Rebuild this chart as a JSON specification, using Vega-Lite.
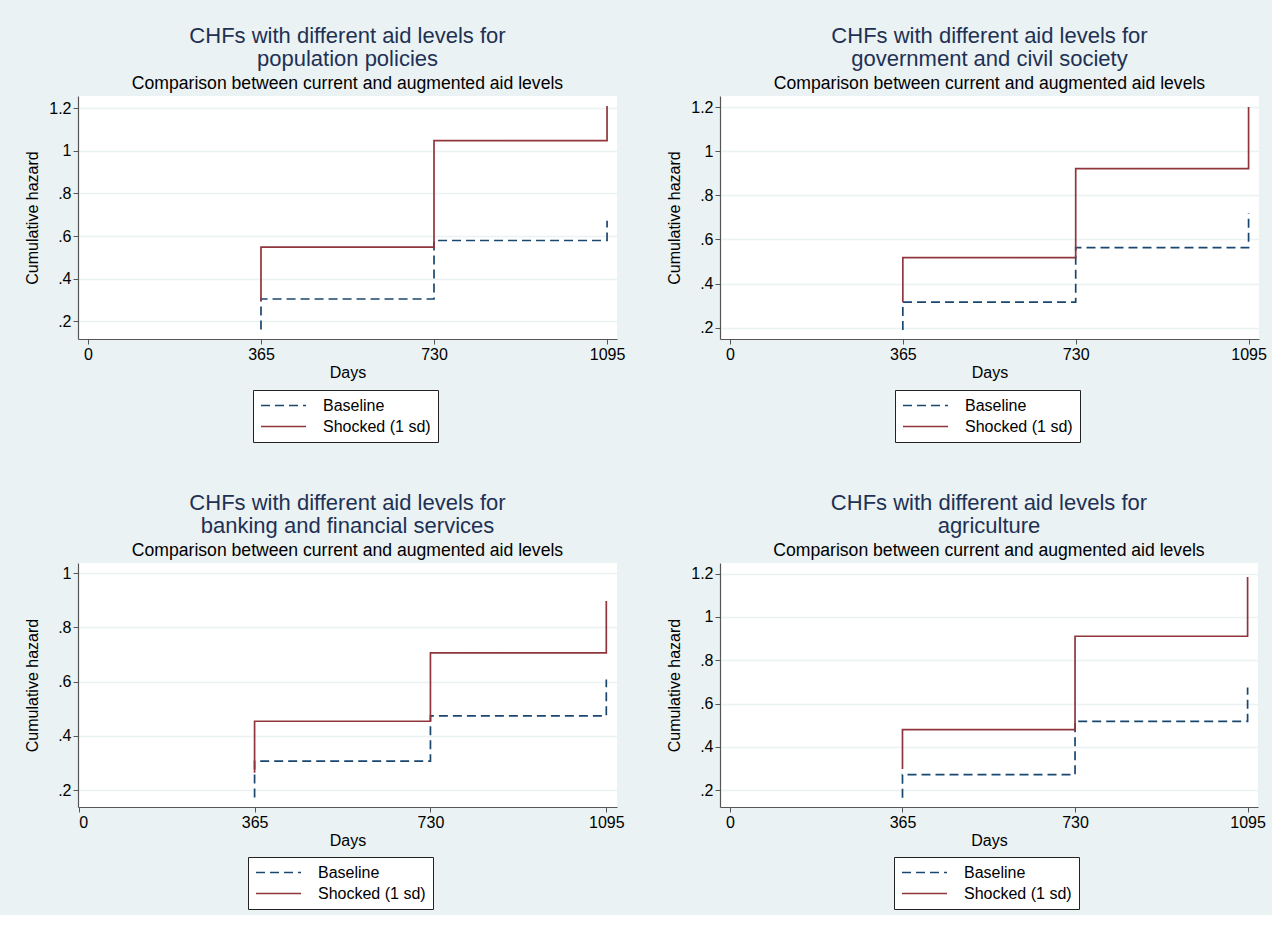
{
  "$schema": "https://vega.github.io/schema/vega-lite/v6.json",
  "background": "#EAF2F3",
  "padding": {"left": 24, "top": 25, "right": 5, "bottom": 5},
  "datasets": {
    "chf": [
      {"panel": 1, "series": "Baseline", "o": 1, "day": 365, "hazard": 0.161},
      {"panel": 1, "series": "Baseline", "o": 2, "day": 365, "hazard": 0.304},
      {"panel": 1, "series": "Baseline", "o": 3, "day": 730, "hazard": 0.304},
      {"panel": 1, "series": "Baseline", "o": 4, "day": 730, "hazard": 0.579},
      {"panel": 1, "series": "Baseline", "o": 5, "day": 1095, "hazard": 0.579},
      {"panel": 1, "series": "Baseline", "o": 6, "day": 1095, "hazard": 0.672},
      {"panel": 1, "series": "Shocked (1 sd)", "o": 1, "day": 365, "hazard": 0.294},
      {"panel": 1, "series": "Shocked (1 sd)", "o": 2, "day": 365, "hazard": 0.548},
      {"panel": 1, "series": "Shocked (1 sd)", "o": 3, "day": 730, "hazard": 0.548},
      {"panel": 1, "series": "Shocked (1 sd)", "o": 4, "day": 730, "hazard": 0.781},
      {"panel": 1, "series": "Shocked (1 sd)", "o": 5, "day": 730, "hazard": 1.048},
      {"panel": 1, "series": "Shocked (1 sd)", "o": 6, "day": 1095, "hazard": 1.048},
      {"panel": 1, "series": "Shocked (1 sd)", "o": 7, "day": 1095, "hazard": 1.211},
      {"panel": 2, "series": "Baseline", "o": 1, "day": 365, "hazard": 0.19},
      {"panel": 2, "series": "Baseline", "o": 2, "day": 365, "hazard": 0.316},
      {"panel": 2, "series": "Baseline", "o": 3, "day": 730, "hazard": 0.316},
      {"panel": 2, "series": "Baseline", "o": 4, "day": 730, "hazard": 0.563},
      {"panel": 2, "series": "Baseline", "o": 5, "day": 1095, "hazard": 0.563},
      {"panel": 2, "series": "Baseline", "o": 6, "day": 1095, "hazard": 0.719},
      {"panel": 2, "series": "Shocked (1 sd)", "o": 1, "day": 365, "hazard": 0.316},
      {"panel": 2, "series": "Shocked (1 sd)", "o": 2, "day": 365, "hazard": 0.518},
      {"panel": 2, "series": "Shocked (1 sd)", "o": 3, "day": 730, "hazard": 0.518},
      {"panel": 2, "series": "Shocked (1 sd)", "o": 4, "day": 730, "hazard": 0.654},
      {"panel": 2, "series": "Shocked (1 sd)", "o": 5, "day": 730, "hazard": 0.921},
      {"panel": 2, "series": "Shocked (1 sd)", "o": 6, "day": 1095, "hazard": 0.921},
      {"panel": 2, "series": "Shocked (1 sd)", "o": 7, "day": 1095, "hazard": 0.996},
      {"panel": 2, "series": "Shocked (1 sd)", "o": 8, "day": 1095, "hazard": 1.2},
      {"panel": 3, "series": "Baseline", "o": 1, "day": 365, "hazard": 0.173},
      {"panel": 3, "series": "Baseline", "o": 2, "day": 365, "hazard": 0.307},
      {"panel": 3, "series": "Baseline", "o": 3, "day": 730, "hazard": 0.307},
      {"panel": 3, "series": "Baseline", "o": 4, "day": 730, "hazard": 0.474},
      {"panel": 3, "series": "Baseline", "o": 5, "day": 1095, "hazard": 0.474},
      {"panel": 3, "series": "Baseline", "o": 6, "day": 1095, "hazard": 0.608},
      {"panel": 3, "series": "Shocked (1 sd)", "o": 1, "day": 365, "hazard": 0.264},
      {"panel": 3, "series": "Shocked (1 sd)", "o": 2, "day": 365, "hazard": 0.454},
      {"panel": 3, "series": "Shocked (1 sd)", "o": 3, "day": 730, "hazard": 0.454},
      {"panel": 3, "series": "Shocked (1 sd)", "o": 4, "day": 730, "hazard": 0.54},
      {"panel": 3, "series": "Shocked (1 sd)", "o": 5, "day": 730, "hazard": 0.706},
      {"panel": 3, "series": "Shocked (1 sd)", "o": 6, "day": 1095, "hazard": 0.706},
      {"panel": 3, "series": "Shocked (1 sd)", "o": 7, "day": 1095, "hazard": 0.897},
      {"panel": 4, "series": "Baseline", "o": 1, "day": 365, "hazard": 0.166},
      {"panel": 4, "series": "Baseline", "o": 2, "day": 365, "hazard": 0.272},
      {"panel": 4, "series": "Baseline", "o": 3, "day": 730, "hazard": 0.272},
      {"panel": 4, "series": "Baseline", "o": 4, "day": 730, "hazard": 0.518},
      {"panel": 4, "series": "Baseline", "o": 5, "day": 1095, "hazard": 0.518},
      {"panel": 4, "series": "Baseline", "o": 6, "day": 1095, "hazard": 0.674},
      {"panel": 4, "series": "Shocked (1 sd)", "o": 1, "day": 365, "hazard": 0.298},
      {"panel": 4, "series": "Shocked (1 sd)", "o": 2, "day": 365, "hazard": 0.48},
      {"panel": 4, "series": "Shocked (1 sd)", "o": 3, "day": 730, "hazard": 0.48},
      {"panel": 4, "series": "Shocked (1 sd)", "o": 4, "day": 730, "hazard": 0.611},
      {"panel": 4, "series": "Shocked (1 sd)", "o": 5, "day": 730, "hazard": 0.911},
      {"panel": 4, "series": "Shocked (1 sd)", "o": 6, "day": 1095, "hazard": 0.911},
      {"panel": 4, "series": "Shocked (1 sd)", "o": 7, "day": 1095, "hazard": 0.991},
      {"panel": 4, "series": "Shocked (1 sd)", "o": 8, "day": 1095, "hazard": 1.184}
    ]
  },
  "spacing": 49,
  "vconcat": [
    {
      "spacing": 41,
      "resolve": {"scale": {"color": "independent", "strokeDash": "independent", "x": "independent", "y": "independent"}, "legend": {"color": "independent", "strokeDash": "independent"}},
      "hconcat": [
        {
          "width": 539, "height": 243,
          "title": {"text": ["CHFs with different aid levels for", "population policies"], "subtitle": "Comparison between current and augmented aid levels"},
          "data": {"name": "chf"},
          "transform": [{"filter": "datum.panel == 1"}],
          "mark": {"type": "line", "strokeWidth": 1.7},
          "encoding": {
            "x": {"field": "day", "type": "quantitative", "title": "Days", "scale": {"domain": [-21, 1116], "nice": false, "zero": false}, "axis": {"values": [0, 365, 730, 1095], "format": "d"}},
            "y": {"field": "hazard", "type": "quantitative", "title": "Cumulative hazard", "scale": {"domain": [0.116, 1.258], "nice": false, "zero": false}, "axis": {"values": [0.2, 0.4, 0.6, 0.8, 1, 1.2], "labelExpr": "datum.value < 1 ? slice(format(datum.value, '.1f'), 1) : format(datum.value, '~g')"}},
            "color": {"field": "series", "type": "nominal", "scale": {"domain": ["Baseline", "Shocked (1 sd)"], "range": ["#1A476F", "#90353B"]}, "legend": {"title": null, "orient": "none", "legendX": 175, "legendY": 294}},
            "strokeDash": {"field": "series", "type": "nominal", "scale": {"domain": ["Baseline", "Shocked (1 sd)"], "range": [[9, 5], [1, 0]]}, "legend": {"title": null, "orient": "none", "legendX": 175, "legendY": 294}},
            "order": {"field": "o", "type": "quantitative"}
          }
        },
        {
          "width": 539, "height": 243,
          "title": {"text": ["CHFs with different aid levels for", "government and civil society"], "subtitle": "Comparison between current and augmented aid levels"},
          "data": {"name": "chf"},
          "transform": [{"filter": "datum.panel == 2"}],
          "mark": {"type": "line", "strokeWidth": 1.7},
          "encoding": {
            "x": {"field": "day", "type": "quantitative", "title": "Days", "scale": {"domain": [-21, 1117], "nice": false, "zero": false}, "axis": {"values": [0, 365, 730, 1095], "format": "d"}},
            "y": {"field": "hazard", "type": "quantitative", "title": "Cumulative hazard", "scale": {"domain": [0.149, 1.25], "nice": false, "zero": false}, "axis": {"values": [0.2, 0.4, 0.6, 0.8, 1, 1.2], "labelExpr": "datum.value < 1 ? slice(format(datum.value, '.1f'), 1) : format(datum.value, '~g')"}},
            "color": {"field": "series", "type": "nominal", "scale": {"domain": ["Baseline", "Shocked (1 sd)"], "range": ["#1A476F", "#90353B"]}, "legend": {"title": null, "orient": "none", "legendX": 175, "legendY": 294}},
            "strokeDash": {"field": "series", "type": "nominal", "scale": {"domain": ["Baseline", "Shocked (1 sd)"], "range": [[9, 5], [1, 0]]}, "legend": {"title": null, "orient": "none", "legendX": 175, "legendY": 294}},
            "order": {"field": "o", "type": "quantitative"}
          }
        }
      ]
    },
    {
      "spacing": 41,
      "resolve": {"scale": {"color": "independent", "strokeDash": "independent", "x": "independent", "y": "independent"}, "legend": {"color": "independent", "strokeDash": "independent"}},
      "hconcat": [
        {
          "width": 539, "height": 244,
          "title": {"text": ["CHFs with different aid levels for", "banking and financial services"], "subtitle": "Comparison between current and augmented aid levels"},
          "data": {"name": "chf"},
          "transform": [{"filter": "datum.panel == 3"}],
          "mark": {"type": "line", "strokeWidth": 1.7},
          "encoding": {
            "x": {"field": "day", "type": "quantitative", "title": "Days", "scale": {"domain": [-1.5, 1117.2], "nice": false, "zero": false}, "axis": {"values": [0, 365, 730, 1095], "format": "d"}},
            "y": {"field": "hazard", "type": "quantitative", "title": "Cumulative hazard", "scale": {"domain": [0.138, 1.037], "nice": false, "zero": false}, "axis": {"values": [0.2, 0.4, 0.6, 0.8, 1], "titlePadding": 17, "labelExpr": "datum.value < 1 ? slice(format(datum.value, '.1f'), 1) : format(datum.value, '~g')"}},
            "color": {"field": "series", "type": "nominal", "scale": {"domain": ["Baseline", "Shocked (1 sd)"], "range": ["#1A476F", "#90353B"]}, "legend": {"title": null, "orient": "none", "legendX": 170, "legendY": 294}},
            "strokeDash": {"field": "series", "type": "nominal", "scale": {"domain": ["Baseline", "Shocked (1 sd)"], "range": [[9, 5], [1, 0]]}, "legend": {"title": null, "orient": "none", "legendX": 170, "legendY": 294}},
            "order": {"field": "o", "type": "quantitative"}
          }
        },
        {
          "width": 538, "height": 244,
          "title": {"text": ["CHFs with different aid levels for", "agriculture"], "subtitle": "Comparison between current and augmented aid levels"},
          "data": {"name": "chf"},
          "transform": [{"filter": "datum.panel == 4"}],
          "mark": {"type": "line", "strokeWidth": 1.7},
          "encoding": {
            "x": {"field": "day", "type": "quantitative", "title": "Days", "scale": {"domain": [-21, 1117], "nice": false, "zero": false}, "axis": {"values": [0, 365, 730, 1095], "format": "d"}},
            "y": {"field": "hazard", "type": "quantitative", "title": "Cumulative hazard", "scale": {"domain": [0.123, 1.249], "nice": false, "zero": false}, "axis": {"values": [0.2, 0.4, 0.6, 0.8, 1, 1.2], "labelExpr": "datum.value < 1 ? slice(format(datum.value, '.1f'), 1) : format(datum.value, '~g')"}},
            "color": {"field": "series", "type": "nominal", "scale": {"domain": ["Baseline", "Shocked (1 sd)"], "range": ["#1A476F", "#90353B"]}, "legend": {"title": null, "orient": "none", "legendX": 174, "legendY": 294}},
            "strokeDash": {"field": "series", "type": "nominal", "scale": {"domain": ["Baseline", "Shocked (1 sd)"], "range": [[9, 5], [1, 0]]}, "legend": {"title": null, "orient": "none", "legendX": 174, "legendY": 294}},
            "order": {"field": "o", "type": "quantitative"}
          }
        }
      ]
    }
  ],
  "resolve": {"scale": {"color": "independent", "strokeDash": "independent", "x": "independent", "y": "independent"}, "legend": {"color": "independent", "strokeDash": "independent"}},
  "config": {
    "font": "Liberation Sans",
    "view": {"stroke": null, "fill": "white"},
    "title": {"font": "Liberation Sans", "fontSize": 22, "fontWeight": "normal", "color": "#1E3154", "lineHeight": 23, "anchor": "middle", "offset": 2, "subtitleFont": "Liberation Sans", "subtitleFontSize": 17.6, "subtitleColor": "#000000", "subtitlePadding": 4},
    "axis": {"labelFont": "Liberation Sans", "labelFontSize": 16, "labelColor": "#000000", "titleFont": "Liberation Sans", "titleFontSize": 16, "titleFontWeight": "normal", "titleColor": "#000000", "domainColor": "#555555", "domainWidth": 1.2, "tickColor": "#555555", "tickSize": 5, "gridColor": "#EAF2F3", "gridWidth": 1.5},
    "axisX": {"grid": false, "labelPadding": 2, "titlePadding": 2},
    "axisY": {"grid": true, "labelPadding": 2, "titlePadding": 8},
    "legend": {"direction": "vertical", "fillColor": "white", "strokeColor": "#222222", "padding": 7, "symbolType": "stroke", "symbolSize": 2025, "symbolStrokeWidth": 1.7, "clipHeight": 17, "labelFont": "Liberation Sans", "labelFontSize": 16, "labelColor": "#000000", "labelOffset": 16, "rowPadding": 4}
  }
}
